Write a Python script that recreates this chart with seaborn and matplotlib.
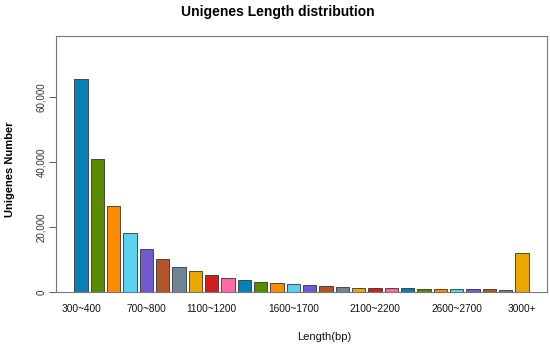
import numpy as np
import pandas as pd
import seaborn as sns
import matplotlib.pyplot as plt
from matplotlib.ticker import FuncFormatter

# length bins (bp) and unigene counts
bins = ['%d~%d' % (s, s + 100) for s in range(300, 3000, 100)] + ['3000+']
counts = [65600, 41000, 26600, 18300, 13300, 10100, 7800, 6400, 5100, 4400,
          3600, 3200, 2800, 2450, 2050, 1750, 1450, 1350, 1150, 1130,
          1080, 1000, 950, 860, 850, 770, 690, 12100]
palette = ['#0780B6', '#5A8A00', '#FF8C00', '#5AD2F0', '#715ACF',
           '#B5532A', '#6F8494', '#EAA800', '#D01E1E', '#FF6AA0']
shown = ['300~400', '700~800', '1100~1200', '1600~1700', '2100~2200', '2600~2700', '3000+']

df = pd.DataFrame({'bin': bins, 'count': counts})
colors = [palette[i % len(palette)] for i in range(len(bins))]

sns.set_style('white')
plt.rcParams['font.family'] = ['Liberation Sans', 'DejaVu Sans']

fig = plt.figure(figsize=(5.5, 3.5), dpi=100)
ax = fig.add_axes([56/550, 1-292/350, (547-56)/550, (292-36)/350])

sns.barplot(ax=ax, data=df, x='bin', y='count', hue='bin', palette=colors,
            legend=False, width=1/1.2, edgecolor='#333333', linewidth=0.6, saturation=1)

ax.set_xlim(-1.53, len(bins) - 1 + 1.53)
ax.set_ylim(0, 78800)
ax.set_yticks([0, 20000, 40000, 60000])
ax.yaxis.set_major_formatter(FuncFormatter(lambda v, p: '{:,.0f}'.format(v)))
for lab in ax.get_yticklabels():
    lab.set_rotation(90)
    lab.set_va('center')
ax.tick_params(axis='y', left=True, length=5, width=0.7, color='#555555',
               labelsize=7, labelcolor='#333333', pad=2)

pos = [bins.index(b) for b in shown]
ax.set_xticks(pos)
ax.set_xticklabels(shown)
ax.tick_params(axis='x', bottom=False, labelsize=7.3, labelcolor='#111111', pad=5)

for s in ax.spines.values():
    s.set_color('#777777')
    s.set_linewidth(0.8)

ax.set_xlabel('Length(bp)', fontsize=8, color='#111111')
ax.xaxis.set_label_coords((324-56)/(547-56), -(332-292)/(292-36))
ax.set_ylabel('Unigenes Number', fontsize=8, fontweight='bold', color='black')
ax.yaxis.set_label_coords(-(56-15)/(547-56), 0.48)

fig.suptitle('Unigenes Length distribution', x=278/550, y=1-12/350, va='center',
             fontsize=10, fontweight='bold', color='black')

plt.savefig('out.png', dpi=100)
